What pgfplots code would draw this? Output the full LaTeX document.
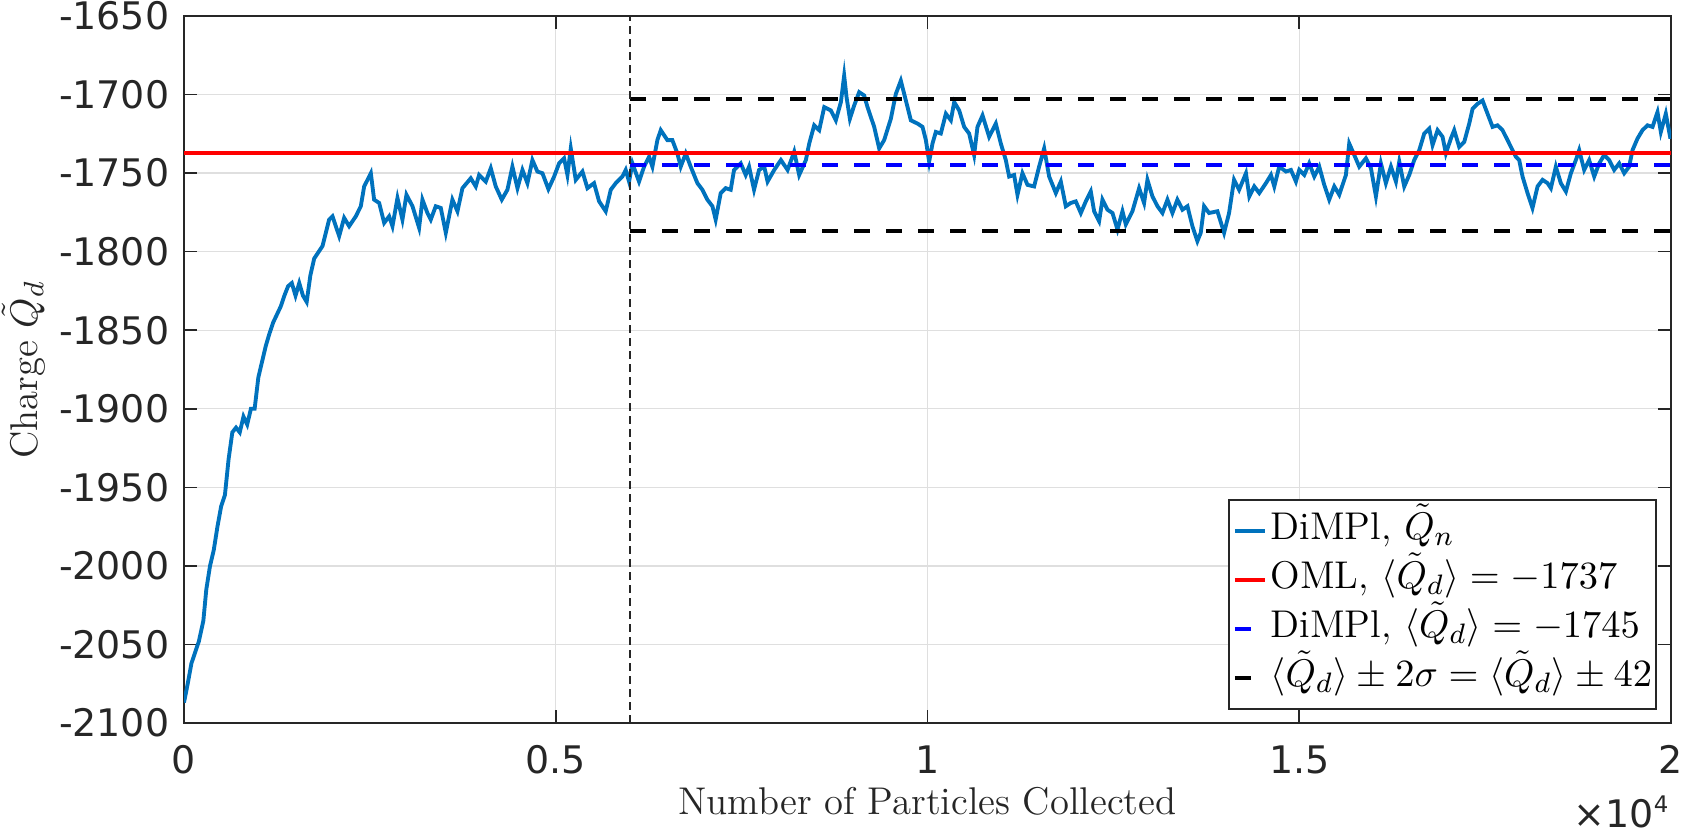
\documentclass[border=0pt]{standalone}
\usepackage{fontspec}
\usepackage{pgfplots}
\pgfplotsset{compat=1.18}
\newfontfamily\tickfont{DejaVu Sans}
\definecolor{mblue}{HTML}{0072BD}
\definecolor{axgray}{HTML}{262626}
\definecolor{gridgray}{HTML}{DFDFDF}
\begin{document}
\begin{tikzpicture}
\useasboundingbox (0,0) rectangle (168.1mm,83.5mm);
\begin{axis}[
  at={(18.4mm,11.2mm)}, anchor=south west,
  scale only axis, width=148.7mm, height=70.7mm,
  xmin=0, xmax=20000, ymin=-2100, ymax=-1650,
  xtick={0,5000,10000,15000,20000}, xticklabels={0,0.5,1,1.5,2},
  ytick={-2100,-2050,-2000,-1950,-1900,-1850,-1800,-1750,-1700,-1650},
  yticklabels={-2100,-2050,-2000,-1950,-1900,-1850,-1800,-1750,-1700,-1650},
  scaled x ticks=false, scaled y ticks=false,
  grid=major, major grid style={gridgray, line width=0.4pt},
  axis line style={axgray, line width=0.45pt},
  major tick style={axgray, line width=0.45pt},
  major tick length=1.3mm, tick align=inside,
  xticklabel style={font=\tickfont\fontsize{10.8}{12}\selectfont, text=axgray, inner sep=0pt, anchor=north, yshift=-2.2mm},
  yticklabel style={font=\tickfont\fontsize{10.8}{12}\selectfont, text=axgray, inner sep=0pt, anchor=east, xshift=-1.4mm},
  xlabel={Number of Particles Collected},
  xlabel style={at={(axis description cs:0.5,-0.1301)}, anchor=base, inner sep=0pt, font=\fontsize{11}{13}\selectfont, text=axgray},
  ylabel={Charge $\tilde{Q}_d$},
  ylabel style={at={(axis description cs:-0.0988,0.5)}, anchor=base, inner sep=0pt, font=\fontsize{11}{13}\selectfont, text=axgray},
  legend style={at={(axis description cs:1,0)}, anchor=south east, xshift=-1.4mm, yshift=1.3mm,
    draw=axgray, line width=0.45pt, fill=white, font=\fontsize{11}{13}\selectfont,
    inner xsep=0.4mm, inner ysep=0.65mm, row sep=0pt,
    nodes={inner sep=0pt, text height=3.3mm, text depth=1.6mm},
    /tikz/every odd column/.append style={column sep=0.4mm}},
  legend cell align=left,
  legend image code/.code={\draw[#1] (0mm,0mm) -- (3mm,0mm);},
]
\addplot[mblue, line width=1.1pt] coordinates {
(0,-2087) (50,-2075) (100,-2062) (150,-2055) (200,-2048) (260,-2035) (300,-2015) (350,-2000)
(400,-1990) (450,-1975) (500,-1962) (550,-1955) (600,-1932) (650,-1915) (700,-1912) (750,-1915)
(800,-1905) (850,-1910) (900,-1900) (950,-1900) (1000,-1880) (1050,-1870) (1100,-1860) (1150,-1852)
(1200,-1845) (1250,-1840) (1300,-1835) (1350,-1828) (1400,-1822) (1450,-1820) (1500,-1828) (1550,-1820)
(1600,-1828) (1650,-1832) (1700,-1815)
(1751,-1804.4) (1863,-1796.4) (1952,-1779.6) (1997,-1777.5) (2087,-1790.1) (2154,-1778.5) (2221,-1783.8)
(2311,-1777.5) (2378,-1771.1) (2423,-1758.5) (2513,-1750.1) (2557,-1766.9) (2625,-1769.0) (2692,-1781.7)
(2759,-1777.5) (2804,-1783.8) (2871,-1765.9) (2938,-1779.6) (2992,-1763.8) (3073,-1771.1) (3162,-1784.8)
(3207,-1766.9) (3274,-1775.4) (3319,-1779.6) (3386,-1771.1) (3454,-1772.2) (3521,-1788.0) (3610,-1766.9)
(3678,-1774.3) (3745,-1759.6) (3857,-1753.3) (3924,-1758.5) (3969,-1751.2) (4059,-1755.4) (4126,-1746.9)
(4193,-1758.5) (4274,-1766.9) (4350,-1760.6) (4417,-1745.9) (4485,-1759.6) (4552,-1748.0) (4619,-1756.4)
(4686,-1741.7) (4753,-1749.0) (4821,-1750.1) (4901,-1760.2) (4978,-1752.2) (5045,-1743.8) (5112,-1740.6)
(5157,-1751.2) (5202,-1734.3) (5269,-1754.3) (5359,-1749.0) (5426,-1759.6) (5515,-1756.4) (5583,-1768.0)
(5672,-1774.3) (5740,-1760.6) (5807,-1756.4) (5896,-1752.2) (5941,-1748.0) (5986,-1755.4) (6031,-1743.8)
(6120,-1755.4) (6188,-1745.9) (6255,-1739.6) (6300,-1745.9) (6367,-1729.0) (6412,-1722.7) (6501,-1729.0)
(6568,-1729.0) (6636,-1737.5) (6681,-1745.9) (6748,-1737.5) (6815,-1745.9) (6905,-1756.4) (6972,-1760.6)
(7039,-1766.9) (7107,-1771.1) (7151,-1779.6) (7219,-1762.7) (7286,-1759.6) (7353,-1760.6) (7398,-1748.0)
(7488,-1743.8) (7555,-1751.2) (7600,-1745.9) (7667,-1760.6) (7734,-1748.0) (7804,-1745.9)
(7849,-1755.4) (7938,-1748.0) (8028,-1741.7) (8118,-1748.0) (8207,-1736.4) (8274,-1751.2) (8364,-1741.7)
(8409,-1731.2) (8476,-1719.6) (8543,-1722.7) (8611,-1708.0) (8700,-1710.1) (8767,-1716.4) (8835,-1704.8)
(8879,-1688.0) (8911,-1701.7) (8956,-1715.4) (9014,-1706.9) (9081,-1698.5) (9148,-1700.6) (9193,-1708.0)
(9283,-1720.6) (9350,-1734.3) (9417,-1729.0) (9507,-1715.4) (9574,-1699.6) (9641,-1691.2) (9709,-1703.8)
(9776,-1716.4) (9866,-1718.5) (9933,-1720.6) (9978,-1729.0) (10022,-1742.7) (10067,-1731.2) (10112,-1723.8)
(10179,-1724.8) (10247,-1712.2) (10314,-1716.4) (10359,-1704.8) (10426,-1710.1) (10493,-1720.6) (10560,-1724.8)
(10627,-1738.5) (10672,-1720.6) (10740,-1713.3) (10829,-1726.9) (10919,-1718.5) (10986,-1731.2) (11053,-1741.7)
(11098,-1752.2) (11165,-1751.2) (11210,-1763.8) (11277,-1750.1) (11345,-1757.5) (11434,-1758.5) (11501,-1745.9)
(11569,-1734.3) (11636,-1752.2) (11726,-1762.7) (11793,-1755.4) (11860,-1771.1) (11927,-1769.0) (11994,-1768.0)
(12062,-1775.4) (12129,-1768.0) (12196,-1761.7) (12241,-1774.3) (12308,-1780.6) (12353,-1766.9) (12420,-1773.3)
(12488,-1775.4) (12555,-1785.9) (12622,-1774.3) (12667,-1782.7) (12756,-1774.3) (12846,-1759.6) (12913,-1769.0)
(12958,-1754.3) (13025,-1764.8) (13093,-1771.1) (13160,-1775.4) (13227,-1766.9) (13294,-1775.4) (13361,-1766.9)
(13429,-1773.3) (13496,-1771.1) (13563,-1783.8) (13630,-1793.3) (13675,-1788.0) (13720,-1771.1) (13787,-1775.4)
(13899,-1774.3) (13989,-1788.0) (14056,-1775.4) (14123,-1754.3) (14191,-1760.6)
(14283,-1750.1) (14328,-1764.8) (14395,-1758.5) (14462,-1762.7) (14552,-1756.4) (14619,-1751.2) (14664,-1758.5)
(14731,-1745.9) (14821,-1749.0) (14888,-1748.0) (14955,-1755.4) (15000,-1748.0) (15067,-1751.2) (15134,-1743.8)
(15202,-1752.2) (15269,-1745.9) (15336,-1757.5) (15403,-1766.9) (15471,-1758.5) (15538,-1763.8) (15627,-1751.2)
(15672,-1731.2) (15740,-1738.5) (15807,-1745.9) (15896,-1740.6) (15964,-1746.9) (16031,-1764.8) (16098,-1743.8)
(16165,-1756.4) (16233,-1745.9) (16300,-1755.4) (16345,-1742.7) (16412,-1758.5) (16479,-1751.2) (16546,-1741.7)
(16614,-1735.4) (16681,-1724.8) (16748,-1721.7) (16793,-1732.2) (16860,-1722.7) (16927,-1726.9) (16972,-1737.5)
(17039,-1728.0) (17084,-1722.7) (17151,-1733.3) (17219,-1730.1) (17286,-1718.5) (17331,-1709.1) (17398,-1705.9)
(17465,-1703.8) (17532,-1712.2) (17600,-1720.6) (17667,-1719.6) (17734,-1722.7) (17801,-1729.0) (17868,-1735.4)
(17913,-1739.6) (17958,-1741.7) (18003,-1752.2) (18070,-1762.7) (18137,-1772.2) (18205,-1758.5) (18272,-1754.3)
(18339,-1756.4) (18384,-1759.6) (18451,-1745.9) (18518,-1756.4) (18586,-1761.7) (18653,-1750.1) (18720,-1741.7)
(18765,-1735.4) (18832,-1748.0) (18899,-1741.7) (18967,-1752.2) (19034,-1743.8) (19101,-1738.5) (19168,-1741.7)
(19235,-1748.0) (19303,-1743.8) (19370,-1750.1) (19437,-1745.9) (19482,-1735.4) (19549,-1728.0) (19616,-1722.7)
(19684,-1719.6) (19751,-1720.6) (19818,-1711.2) (19863,-1723.8) (19930,-1712.2) (19988,-1727.0) (20000,-1727.0)
};
\addlegendentry{DiMPl, $\tilde{Q}_n$}
\addplot[red, line width=1.1pt] coordinates {(0,-1737) (20000,-1737)};
\addlegendentry{OML, $\langle\tilde{Q}_d\rangle = -1737$}
\addplot[blue, line width=1.1pt, dash pattern=on 1.6mm off 1.6mm] coordinates {(6000,-1745) (20000,-1745)};
\addlegendentry{DiMPl, $\langle\tilde{Q}_d\rangle = -1745$}
\addplot[black, line width=1.1pt, dash pattern=on 1.6mm off 1.6mm] coordinates {(6000,-1703) (20000,-1703)};
\addlegendentry{$\langle\tilde{Q}_d\rangle \pm 2\sigma = \langle\tilde{Q}_d\rangle \pm 42$}
\addplot[black, line width=1.1pt, dash pattern=on 1.6mm off 1.6mm, forget plot] coordinates {(6000,-1787) (20000,-1787)};
\addplot[axgray, line width=0.35pt, dash pattern=on 0.8mm off 0.5mm, forget plot] coordinates {(6000,-2100) (6000,-1650)};
\end{axis}
\node[anchor=base east, inner sep=0pt, font=\tickfont\fontsize{10.8}{12}\selectfont, text=axgray] at (166.9mm,0.7mm) {×10\raisebox{1.5mm}{\fontsize{6.5}{7}\selectfont 4}};
\end{tikzpicture}
\end{document}
